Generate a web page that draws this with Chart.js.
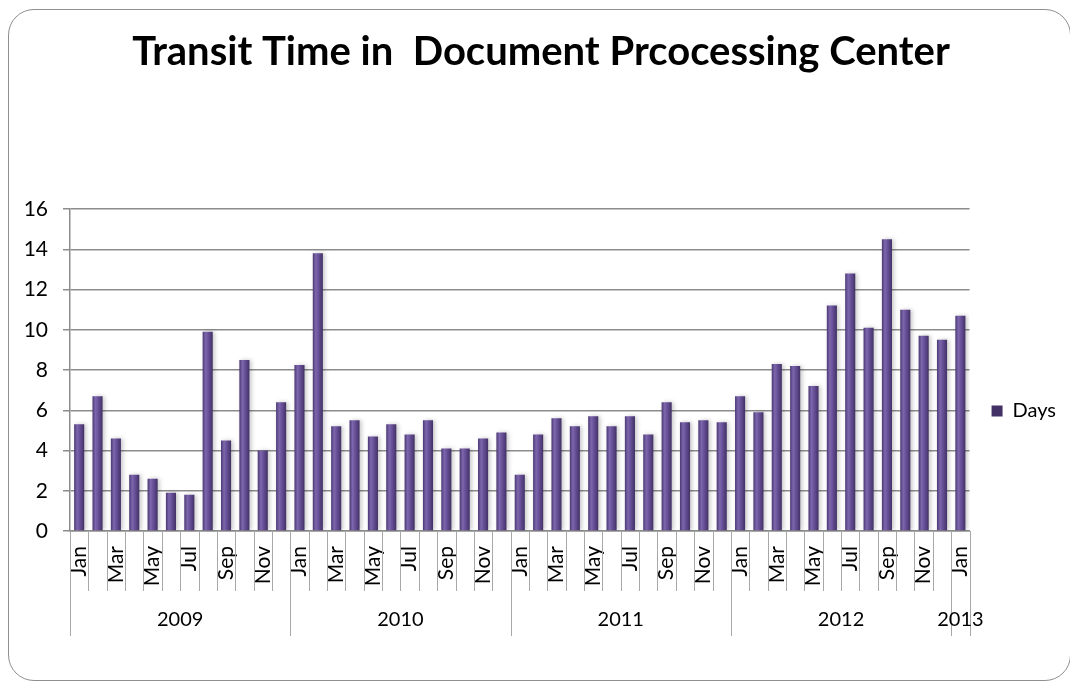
<!DOCTYPE html>
<html>
<head>
<meta charset="utf-8">
<title>Transit Time in Document Processing Center</title>
<script src="https://cdn.jsdelivr.net/npm/chart.js@4.4.1/dist/chart.umd.min.js"></script>
<style>
  html, body { margin: 0; padding: 0; background: #ffffff; }
  body { width: 1070px; height: 681px; overflow: hidden; position: relative; }
  #frame {
    position: absolute; left: 8px; top: 9px; width: 1063px; height: 672px;
    border: 1.5px solid #8f8f8f; border-radius: 26px; box-sizing: border-box;
  }
  #wrap { position: absolute; left: 0; top: 0; width: 1070px; height: 681px; }
</style>
</head>
<body>
<div id="frame"></div>
<div id="wrap"><canvas id="chart" width="1070" height="681"></canvas></div>
<script>
// Month names and the year groups shown under them
const monthNames = ['Jan','Feb','Mar','Apr','May','Jun','Jul','Aug','Sep','Oct','Nov','Dec'];
const years = ['2009', '2010', '2011', '2012', '2013'];
const monthsPerYear = [12, 12, 12, 12, 1];

// Average transit time (days) per month
const days2009 = [5.3, 6.7, 4.6, 2.8, 2.6, 1.9, 1.8, 9.9, 4.5, 8.5, 4.0, 6.4];
const days2010 = [8.25, 13.8, 5.2, 5.5, 4.7, 5.3, 4.8, 5.5, 4.1, 4.1, 4.6, 4.9];
const days2011 = [2.8, 4.8, 5.6, 5.2, 5.7, 5.2, 5.7, 4.8, 6.4, 5.4, 5.5, 5.4];
const days2012 = [6.7, 5.9, 8.3, 8.2, 7.2, 11.2, 12.8, 10.1, 14.5, 11.0, 9.7, 9.5];
const days2013 = [10.7];

const yTicks = { min: 0, max: 16, step: 2 };

const categories = [];
monthsPerYear.forEach(n => { for (let m = 0; m < n; m++) categories.push(monthNames[m]); });
const days = [].concat(days2009, days2010, days2011, days2012, days2013);

const FONT = 'Lato, "Liberation Sans", "DejaVu Sans", sans-serif';
const BAR_PCT = 0.55;

// Cylinder-like shading across each bar
function barFill(c) {
  const chart = c.chart;
  const x = chart.scales && chart.scales.x;
  if (c.type !== 'data' || !x || !chart.chartArea) return '#604b8e';
  const cx = x.getPixelForValue(c.dataIndex);
  const w = (x.width / categories.length) * BAR_PCT;
  const g = chart.ctx.createLinearGradient(cx - w / 2, 0, cx + w / 2, 0);
  g.addColorStop(0, '#4b3774');
  g.addColorStop(0.3, '#7d67ac');
  g.addColorStop(0.55, '#69519a');
  g.addColorStop(1, '#423165');
  return g;
}

// Soft shadow behind the bars
const barShadow = {
  id: 'barShadow',
  beforeDatasetsDraw(chart) {
    const ctx = chart.ctx;
    ctx.save();
    ctx.shadowColor = 'rgba(0,0,0,0.22)';
    ctx.shadowBlur = 4;
    ctx.shadowOffsetX = 2;
    ctx.shadowOffsetY = 0;
  },
  afterDatasetsDraw(chart) { chart.ctx.restore(); }
};

// Month separators and year group labels under the x axis
const monthGroups = {
  id: 'monthGroups',
  afterDraw(chart) {
    const x = chart.scales.x;
    const ctx = chart.ctx;
    const top = chart.chartArea.bottom;
    const step = x.width / categories.length;
    const yearEdges = new Set([0]);
    let acc = 0;
    monthsPerYear.forEach(n => { acc += n; yearEdges.add(acc); });

    ctx.save();
    ctx.strokeStyle = '#a8a8a8';
    ctx.lineWidth = 1;
    for (let i = 0; i <= categories.length; i++) {
      const px = Math.round(x.getPixelForValue(i) - step / 2) + 0.5;
      const len = yearEdges.has(i) ? 105 : 60;
      ctx.beginPath();
      ctx.moveTo(px, top);
      ctx.lineTo(px, top + len);
      ctx.stroke();
    }

    ctx.fillStyle = '#000';
    ctx.font = '20px ' + FONT;
    ctx.textAlign = 'center';
    ctx.textBaseline = 'middle';
    let start = 0;
    years.forEach((yr, k) => {
      const n = monthsPerYear[k];
      const x0 = x.getPixelForValue(start) - step / 2;
      const x1 = x.getPixelForValue(start + n - 1) + step / 2;
      ctx.fillText(yr, (x0 + x1) / 2, top + 89);
      start += n;
    });
    ctx.restore();
  }
};

new Chart(document.getElementById('chart'), {
  type: 'bar',
  data: {
    labels: categories,
    datasets: [{
      label: 'Days',
      data: days,
      backgroundColor: barFill,
      borderWidth: 0,
      barPercentage: BAR_PCT,
      categoryPercentage: 1
    }]
  },
  options: {
    responsive: false,
    animation: false,
    devicePixelRatio: 1,
    layout: { padding: { left: 16, right: 4, top: 0, bottom: 0 } },
    plugins: {
      title: {
        display: true,
        text: 'Transit Time in  Document Prcocessing Center',
        color: '#000',
        font: { family: FONT, size: 40, weight: 'bold', lineHeight: 1.2 },
        padding: { top: 28, bottom: 133 }
      },
      legend: {
        position: 'right',
        labels: {
          boxWidth: 11, boxHeight: 11, padding: 22, color: '#000',
          font: { family: FONT, size: 20 }
        },
        title: { display: true, text: ' ', font: { family: FONT, size: 20 }, padding: { top: 0, bottom: 117 } }
      },
      tooltip: { enabled: false }
    },
    scales: {
      x: {
        grid: { display: false, drawTicks: false },
        border: { display: true, color: '#8c8c8c', width: 1.5 },
        ticks: {
          autoSkip: false, maxRotation: 90, minRotation: 90, padding: 15,
          color: '#000', font: { family: FONT, size: 21 },
          callback: (v, i) => (i % 2 === 0 ? categories[i] : '')
        },
        afterFit: s => { s.height = 150; }
      },
      y: {
        min: yTicks.min, max: yTicks.max,
        ticks: { stepSize: yTicks.step, padding: 15, color: '#000', font: { family: FONT, size: 21 } },
        grid: { color: '#8c8c8c', lineWidth: 1.5, tickLength: 7 },
        border: { color: '#8c8c8c', width: 1.5 },
        afterFit: s => { s.width = 54; }
      }
    }
  },
  plugins: [barShadow, monthGroups]
});
</script>
</body>
</html>
